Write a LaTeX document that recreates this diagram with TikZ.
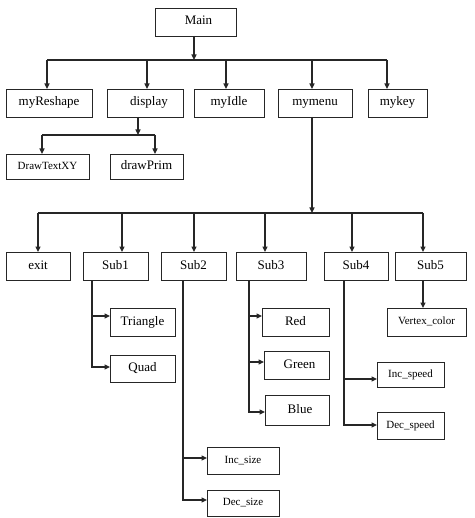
\documentclass[tikz,border=0pt]{standalone}
\usepackage{fontspec}
\setmainfont{Liberation Serif}
\usetikzlibrary{arrows.meta}
\begin{document}
\begin{tikzpicture}[x=1pt,y=-1pt,
  box/.style={draw=black!85, line width=0.9pt, inner sep=0pt, outer sep=0pt, text height=9pt, text depth=3pt, font=\fontsize{13}{15}\selectfont},
  sbox/.style={box, text height=7.5pt, text depth=2.2pt, font=\fontsize{11}{13}\selectfont},
  conn/.style={draw=black!85, line width=1.1pt},
  arr/.style={conn, -{Triangle[length=5.5pt,width=5pt]}}]
\useasboundingbox (0,0) rectangle (474,518);
% row 0
\node[box, minimum width=81pt, minimum height=28pt] (Main) at (195.5,22) {\hspace{6pt}Main};
% row 1
\node[box, minimum width=86pt, minimum height=28pt] (myReshape) at (49,103) {myReshape};
\node[box, minimum width=76pt, minimum height=28pt] (display) at (145,103) {\hspace{8pt}display};
\node[box, minimum width=70pt, minimum height=28pt] (myIdle) at (229,103) {myIdle};
\node[box, minimum width=74pt, minimum height=28pt] (mymenu) at (315,103) {mymenu\hspace{10pt}};
\node[box, minimum width=59pt, minimum height=28pt] (mykey) at (397.5,103) {mykey};
% display children
\node[sbox, minimum width=83pt, minimum height=25pt] (DrawTextXY) at (47.5,166.5) {DrawTextXY};
\node[box, minimum width=73pt, minimum height=25pt] (drawPrim) at (146.5,166.5) {drawPrim};
% row 2
\node[box, minimum width=64pt, minimum height=28pt] (exit) at (38,266) {exit};
\node[box, minimum width=65pt, minimum height=28pt] (Sub1) at (115.5,266) {Sub1};
\node[box, minimum width=65pt, minimum height=28pt] (Sub2) at (193.5,266) {Sub2};
\node[box, minimum width=70pt, minimum height=28pt] (Sub3) at (271,266) {Sub3};
\node[box, minimum width=64pt, minimum height=28pt] (Sub4) at (356,266) {Sub4};
\node[box, minimum width=71pt, minimum height=28pt] (Sub5) at (430.5,266) {Sub5};
% row 3
\node[box, minimum width=65pt, minimum height=28pt] (Triangle) at (142.5,322) {Triangle};
\node[box, minimum width=65pt, minimum height=27pt] (Quad) at (142.5,368.5) {Quad};
\node[box, minimum width=67pt, minimum height=28pt] (Red) at (295.5,322) {Red};
\node[box, minimum width=65pt, minimum height=28pt] (Green) at (296.5,365) {\hspace{6pt}Green};
\node[box, minimum width=64pt, minimum height=30pt] (Blue) at (297,410) {\hspace{6pt}Blue};
\node[sbox, minimum width=79pt, minimum height=28pt] (Vertex) at (426.5,322) {Vertex\_color};
\node[sbox, minimum width=67pt, minimum height=25pt] (IncSpeed) at (410.5,374.5) {Inc\_speed};
\node[sbox, minimum width=67pt, minimum height=27pt] (DecSpeed) at (410.5,425.5) {Dec\_speed};
\node[sbox, minimum width=72pt, minimum height=27pt] (IncSize) at (243,460.5) {Inc\_size};
\node[sbox, minimum width=72pt, minimum height=26pt] (DecSize) at (243,503) {Dec\_size};
% top bar
\coordinate (barL) at (47,60);
\coordinate (barR) at (387,60);
\draw[arr] ([xshift=-1.5pt]Main.south) -- ([xshift=-1.5pt]Main.south |- barL);
\draw[conn] (barL) -- (barR);
\draw[arr] ([xshift=-2pt]myReshape.north |- barL) -- ([xshift=-2pt]myReshape.north);
\draw[arr] ([xshift=2pt]display.north |- barL) -- ([xshift=2pt]display.north);
\draw[arr] ([xshift=-3pt]myIdle.north |- barL) -- ([xshift=-3pt]myIdle.north);
\draw[arr] ([xshift=-3pt]mymenu.north |- barL) -- ([xshift=-3pt]mymenu.north);
\draw[arr] ([xshift=-10.5pt]mykey.north |- barL) -- ([xshift=-10.5pt]mykey.north);
% display bar
\coordinate (dbarL) at (42,135);
\coordinate (dbarR) at (155,135);
\draw[arr] ([xshift=-7pt]display.south) -- ([xshift=-7pt]display.south |- dbarL);
\draw[conn] (dbarL) -- (dbarR);
\draw[arr] ([xshift=-5.5pt]DrawTextXY.north |- dbarL) -- ([xshift=-5.5pt]DrawTextXY.north);
\draw[arr] ([xshift=8.5pt]drawPrim.north |- dbarL) -- ([xshift=8.5pt]drawPrim.north);
% mymenu bar
\coordinate (mbarL) at (38,213);
\coordinate (mbarR) at (423,213);
\draw[arr] ([xshift=-3pt]mymenu.south) -- ([xshift=-3pt]mymenu.south |- mbarL);
\draw[conn] (mbarL) -- (mbarR);
\draw[arr] (exit.north |- mbarL) -- (exit.north);
\draw[arr] ([xshift=6.5pt]Sub1.north |- mbarL) -- ([xshift=6.5pt]Sub1.north);
\draw[arr] ([xshift=0.5pt]Sub2.north |- mbarL) -- ([xshift=0.5pt]Sub2.north);
\draw[arr] ([xshift=-6pt]Sub3.north |- mbarL) -- ([xshift=-6pt]Sub3.north);
\draw[arr] ([xshift=-4pt]Sub4.north |- mbarL) -- ([xshift=-4pt]Sub4.north);
\draw[arr] ([xshift=-7.5pt]Sub5.north |- mbarL) -- ([xshift=-7.5pt]Sub5.north);
% Sub5
\draw[arr] ([xshift=-7.5pt]Sub5.south) -- ([xshift=-7.5pt]Sub5.south |- Vertex.north);
% Sub1
\draw[arr] ([xshift=9pt]Sub1.south west) |- ([yshift=6pt]Triangle.west);
\draw[arr] ([xshift=9pt]Sub1.south west) |- ([yshift=1.5pt]Quad.west);
% Sub2
\draw[arr] ([xshift=22pt]Sub2.south west) |- ([yshift=2.5pt]IncSize.west);
\draw[arr] ([xshift=22pt]Sub2.south west) |- ([yshift=3pt]DecSize.west);
% Sub3
\draw[arr] ([xshift=13pt]Sub3.south west) |- ([yshift=6pt]Red.west);
\draw[arr] ([xshift=13pt]Sub3.south west) |- ([yshift=3pt]Green.west);
\draw[arr] ([xshift=13pt]Sub3.south west) |- ([yshift=-2pt]Blue.west);
% Sub4
\draw[arr] ([xshift=20pt]Sub4.south west) |- ([yshift=-4.5pt]IncSpeed.west);
\draw[arr] ([xshift=20pt]Sub4.south west) |- ([yshift=0.5pt]DecSpeed.west);
\end{tikzpicture}
\end{document}
